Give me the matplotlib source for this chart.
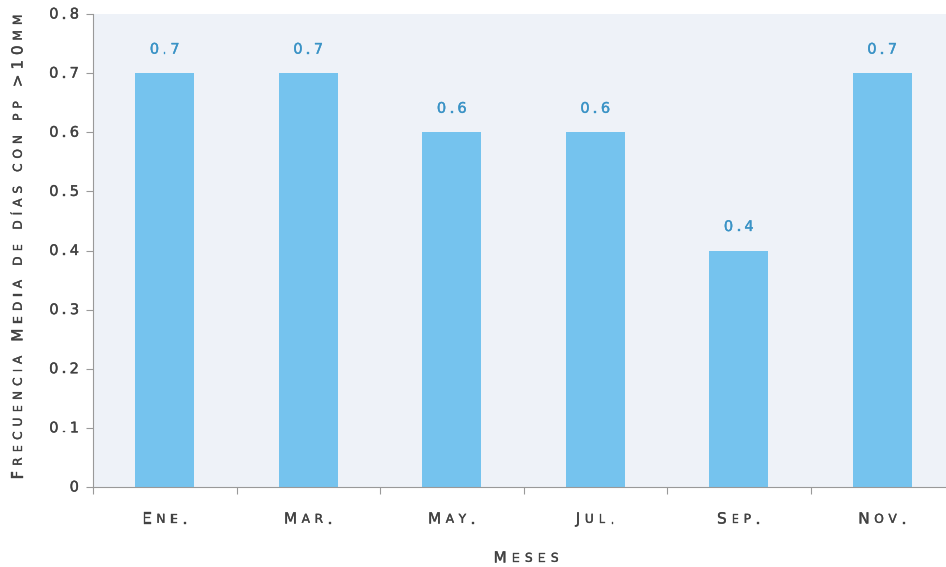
import matplotlib
matplotlib.use("Agg")
import matplotlib.pyplot as plt
import matplotlib.patheffects as pe
from matplotlib.text import Annotation

meses = ["Ene.", "Mar.", "May.", "Jul.", "Sep.", "Nov."]
frecuencia = [0.7, 0.7, 0.6, 0.6, 0.4, 0.7]
y_ticks = [0, 0.1, 0.2, 0.3, 0.4, 0.5, 0.6, 0.7, 0.8]
y_tick_labels = ["0", "0.1", "0.2", "0.3", "0.4", "0.5", "0.6", "0.7", "0.8"]
x_label = "Meses"
y_label = "Frecuencia Media de días con pp >10mm"

W, H = 946, 567
fig = plt.figure(figsize=(W / 100, H / 100), dpi=100)
ax = fig.add_axes([93 / W, 80 / H, 861 / W, 473 / H])
ax.set_facecolor("#eef2f8")

pos = list(range(len(meses)))
ax.bar(pos, frecuencia, width=0.41, color="#75c3ee", zorder=2)

ax.set_xlim(-0.5, len(meses) - 0.5)
ax.set_ylim(0, 0.8)
ax.set_yticks(y_ticks)
ax.set_yticklabels([])
ax.set_xticks([p - 0.5 for p in pos] + [len(meses) - 0.5])
ax.set_xticklabels([])
ax.tick_params(axis="both", color="#999999", length=5, width=0.8)
for s in ["top", "right"]:
    ax.spines[s].set_visible(False)
for s in ["left", "bottom"]:
    ax.spines[s].set_color("#999999")
    ax.spines[s].set_linewidth(0.8)

D = 0.236  # descent ratio of DejaVu Sans


def spaced(xpix, ypix, s, size, rotation=0, color="#424242", ha="center",
           track=3.0, caps=True, space=0.5):
    # letter-spaced small-caps text, one artist per character
    pieces = []
    prev = None
    prev_fs = size
    gap = 0
    effects = [pe.withStroke(linewidth=0.25, foreground=color)]
    for ch in s:
        if ch == " ":
            gap += size * space
            continue
        fs = size * 0.8 if (caps and ch.islower()) else size
        txt = ch.upper() if caps else ch
        kw = dict(fontsize=fs, color=color, path_effects=effects)
        if prev is None:
            t = fig.text(0, 0, txt, rotation=rotation, ha="left", va="bottom", **kw)
        elif rotation == 0:
            t = fig.add_artist(Annotation(
                txt, xy=(1, 0), xycoords=prev,
                xytext=(track + gap, D * (prev_fs - fs)), textcoords="offset points",
                ha="left", va="bottom", **kw))
        else:
            t = fig.add_artist(Annotation(
                txt, xy=(1, 1), xycoords=prev,
                xytext=(D * (fs - prev_fs), track + gap), textcoords="offset points",
                ha="right", va="bottom", rotation=90, **kw))
        pieces.append(t)
        prev = t
        prev_fs = fs
        gap = 0
    fig.canvas.draw()
    r = fig.canvas.get_renderer()
    bbs = [p.get_window_extent(r) for p in pieces]
    x0 = min(b.x0 for b in bbs); x1 = max(b.x1 for b in bbs)
    y0 = min(b.y0 for b in bbs); y1 = max(b.y1 for b in bbs)
    ref_x = x1 if ha == "right" else (x0 + x1) / 2
    cy = (y0 + y1) / 2
    px, py = pieces[0].get_position()
    pieces[0].set_position((px + (xpix - ref_x) / W, py + ((H - ypix) - cy) / H))
    return pieces


def to_pix(x, y):
    dx, dy = ax.transData.transform((x, y))
    return dx, H - dy


for yt, lab in zip(y_ticks, y_tick_labels):
    _, yp = to_pix(0, yt)
    spaced(79, yp, lab, 10.5, ha="right", track=2.3, caps=False)

for p, v in zip(pos, frecuencia):
    xp, yp = to_pix(p, v)
    spaced(xp, yp - 24, f"{v:.1f}", 10.5, color="#3a93c6", track=2.3, caps=False)

for p, m in zip(pos, meses):
    xp, _ = to_pix(p, 0)
    spaced(xp, 519, m, 11, track=3.3)

spaced(526, 558, x_label, 11, track=3.8)
spaced(18, 247, y_label, 11, rotation=90, track=3.5, space=0.6)

fig.savefig("out.png", dpi=100)
